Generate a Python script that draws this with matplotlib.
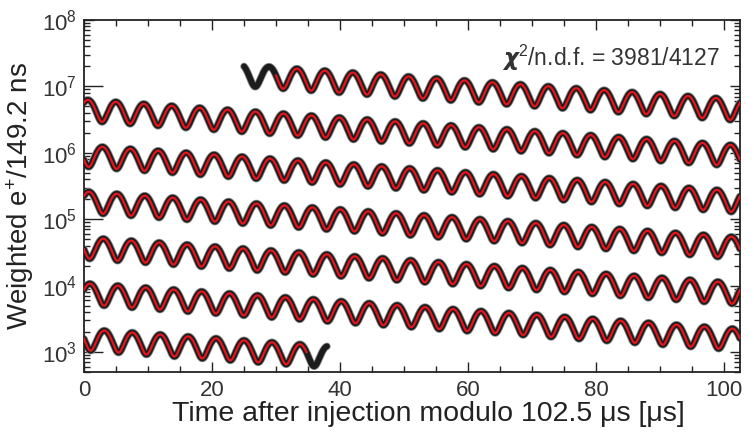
import numpy as np
import matplotlib
matplotlib.use("Agg")
import matplotlib.pyplot as plt
from matplotlib.ticker import LogLocator, MultipleLocator, NullFormatter

plt.rcParams['font.family'] = ['Liberation Sans', 'DejaVu Sans']
plt.rcParams['mathtext.fontset'] = 'custom'
plt.rcParams['mathtext.rm'] = 'Liberation Sans'
plt.rcParams['mathtext.it'] = 'Liberation Sans:italic'
plt.rcParams['mathtext.bf'] = 'DejaVu Sans:bold'

# wiggle fit parameters
n0 = 2.3e7          # counts at t = 0
tau = 64.4          # dilated muon lifetime [us]
asym = 0.35         # asymmetry
period = 4.365      # g-2 period [us]
t_peak = 107.5      # time of one maximum [us]
wrap = 102.5        # wrap-around time [us]
data_range = (25.0, 653.0)
fit_range = (30.0, 649.8)
long_ticks = [1e3, 1e5, 1e7]
chi2_label = r"$\boldsymbol{\chi}^2$/n.d.f. = 3981/4127"


def wiggle(t):
    return n0 * np.exp(-t / tau) * (1 + asym * np.cos(2 * np.pi * (t - t_peak) / period))


fig = plt.figure(figsize=(7.54, 4.32), dpi=100)
ax = fig.add_axes([0.1114, 0.1389, 0.87, 0.8148])


def draw(t0, t1, **kw):
    t = np.arange(t0, t1, 0.04)
    row = np.floor(t / wrap + 1e-9)
    for r in np.unique(row):
        m = row == r
        ax.plot(t[m] - r * wrap, wiggle(t[m]), **kw)


draw(*data_range, color='#8a8a8a', lw=5.4, solid_capstyle='round', zorder=2)
draw(*data_range, color='#1c1c1c', lw=4.2, solid_capstyle='round', zorder=3)
draw(*fit_range, color='#e8141c', lw=1.6, zorder=4)

ax.set_yscale('log')
ax.set_xlim(0, wrap)
ax.set_ylim(5e2, 1e8)

ax.xaxis.set_major_locator(MultipleLocator(20))
ax.xaxis.set_minor_locator(MultipleLocator(5))
ax.yaxis.set_major_locator(LogLocator(base=10))
ax.yaxis.set_minor_locator(LogLocator(base=10, subs=np.arange(2, 10)))
ax.yaxis.set_minor_formatter(NullFormatter())

ax.tick_params(which='both', direction='in', top=True, right=True,
               width=1.0, color='#222222', labelsize=16, labelcolor='#333333')
ax.tick_params(which='major', length=7)
ax.tick_params(which='minor', length=4)
ax.tick_params(axis='x', pad=6)
ax.tick_params(axis='y', pad=5)

fig.canvas.draw()
for tk in ax.yaxis.get_major_ticks():
    if any(np.isclose(tk.get_loc(), v) for v in long_ticks):
        tk.tick1line.set_markersize(14)

for sp in ax.spines.values():
    sp.set_linewidth(1.3)
    sp.set_color('#222222')

ax.set_xlabel("Time after injection modulo 102.5 μs [μs]", fontsize=20.5, color='#222222', labelpad=0)
ax.xaxis.label.set_x(0.525)
ax.set_ylabel(r"Weighted e$^{+}$/149.2 ns", fontsize=20, color='#222222', labelpad=4)

ax.text(0.97, 0.893, chi2_label, transform=ax.transAxes, ha='right', va='center',
        fontsize=16.5, color='#333333')

fig.savefig("out.png", dpi=100)
